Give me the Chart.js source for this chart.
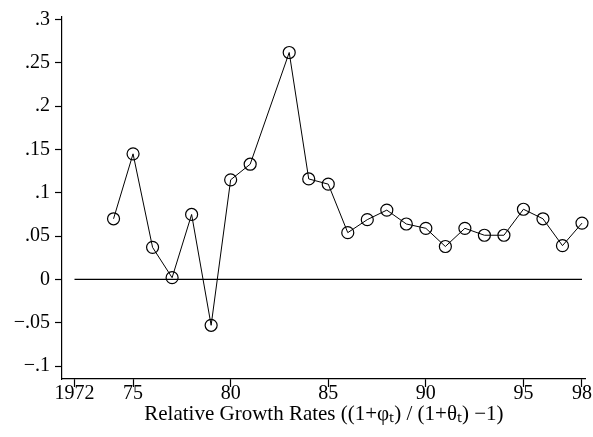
<!DOCTYPE html>
<html>
<head>
<meta charset="utf-8">
<script src="https://cdn.jsdelivr.net/npm/chart.js@4"></script>
<style>
  html, body { margin: 0; padding: 0; background: #fff; overflow: hidden; }
</style>
</head>
<body>
<canvas id="chart" width="593" height="437"></canvas>
<script>
// years with an observation (no marker for 1982 in the source)
const years = [1974, 1975, 1976, 1977, 1978, 1979, 1980, 1981, 1983, 1984, 1985, 1986,
  1987, 1988, 1989, 1990, 1991, 1992, 1993, 1994, 1995, 1996, 1997, 1998];
const growth = [0.070, 0.145, 0.037, 0.002, 0.075, -0.053, 0.115, 0.133, 0.262, 0.116, 0.110, 0.054,
  0.069, 0.080, 0.064, 0.059, 0.038, 0.059, 0.051, 0.051, 0.081, 0.070, 0.039, 0.065];
const xTicks = [1972, 1975, 1980, 1985, 1990, 1995, 1998];
const yTicks = [-0.1, -0.05, 0, 0.05, 0.1, 0.15, 0.2, 0.25, 0.3];
const zeroLine = [[1972, 0], [1998, 0]];

const font = { family: '"Liberation Serif", "Times New Roman", serif', size: 20 };

function yLabel(v) {
  if (Math.abs(v) < 1e-9) return '0';
  const s = String(Math.round(Math.abs(v) * 100) / 100).replace(/^0/, '');
  return v < 0 ? '\u2212' + s : s;
}

const chart = new Chart(document.getElementById('chart'), {
  type: 'line',
  data: {
    datasets: [
      {
        data: years.map((y, i) => ({ x: y, y: growth[i] })),
        borderColor: '#000',
        borderWidth: 1,
        pointRadius: 6,
        pointBorderWidth: 1.2,
        pointBorderColor: '#000',
        pointBackgroundColor: 'rgba(0,0,0,0)',
        tension: 0,
        clip: false,
      },
      {
        data: zeroLine.map(([x, y]) => ({ x, y })),
        borderColor: '#000',
        borderWidth: 1.2,
        pointRadius: 0,
        clip: false,
      },
    ],
  },
  options: {
    responsive: false,
    animation: false,
    layout: { padding: { top: 15, right: 0, left: 0, bottom: 0 } },
    plugins: { legend: { display: false }, tooltip: { enabled: false } },
    scales: {
      x: {
        type: 'linear',
        min: 1971.36,
        max: 1998.6,
        afterBuildTicks: (scale) => { scale.ticks = xTicks.map((v) => ({ value: v })); },
        afterFit: (scale) => { scale.height = 58; },
        ticks: {
          color: '#000',
          font,
          padding: -5,
          maxRotation: 0,
          autoSkip: false,
          callback: (v) => (v === 1972 ? '1972' : String(v).slice(2)),
        },
        grid: { drawOnChartArea: false, tickLength: 8, color: '#000', tickWidth: 1.2 },
        border: { color: '#000', width: 1.2 },
        title: {
          display: true,
          text: 'Relative Growth Rates ((1+\u03c6\u209c) / (1+\u03b8\u209c) \u22121)',
          color: '#000',
          font: { family: font.family, size: 21 },
          padding: { top: 0, bottom: 10 },
        },
      },
      y: {
        min: -0.115,
        max: 0.303,
        afterBuildTicks: (scale) => { scale.ticks = yTicks.map((v) => ({ value: v })); },
        afterFit: (scale) => { scale.width = 62; },
        ticks: { color: '#000', font, padding: 5, callback: yLabel },
        grid: { drawOnChartArea: false, tickLength: 7, color: '#000', tickWidth: 1.2 },
        border: { color: '#000', width: 1.2 },
      },
    },
  },
});

// stretch the year range so 1972 and 1998 sit where the reference puts them
for (let i = 0; i < 3; i += 1) {
  const { left, right } = chart.chartArea;
  const perYear = (582 - 74.5) / (1998 - 1972);
  chart.options.scales.x.min = 1972 - (74.5 - left) / perYear;
  chart.options.scales.x.max = 1998 + (right - 582) / perYear;
  chart.update();
}
</script>
</body>
</html>
